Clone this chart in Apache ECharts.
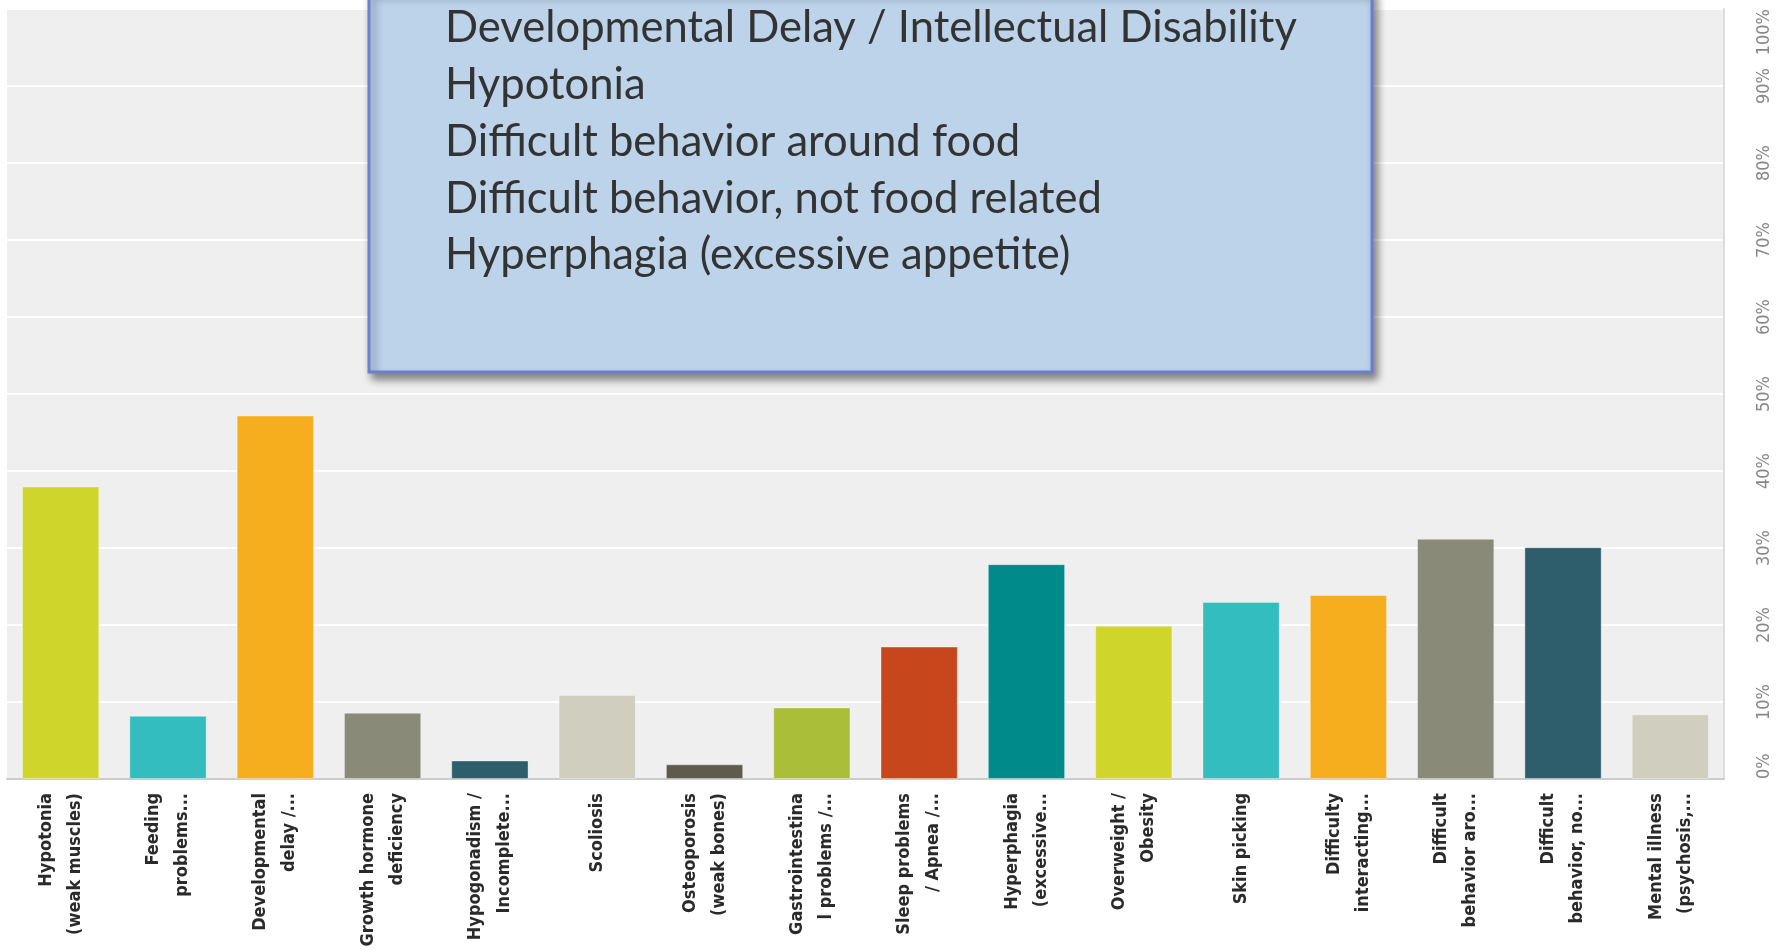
<!DOCTYPE html>
<html>
<head>
<meta charset="utf-8">
<script src="https://cdn.jsdelivr.net/npm/echarts@6/dist/echarts.min.js"></script>
<style>
  html, body { margin: 0; padding: 0; background: #ffffff; }
  #chart { width: 1778px; height: 950px; }
</style>
</head>
<body>
<div id="chart"></div>
<script>
// categories on the x axis (as shown, truncated labels kept)
const categories = [
    'Hypotonia\n(weak muscles)',
    'Feeding\nproblems...',
    'Developmental\ndelay /...',
    'Growth hormone\ndeficiency',
    'Hypogonadism /\nIncomplete...',
    'Scoliosis',
    'Osteoporosis\n(weak bones)',
    'Gastrointestina\nl problems /...',
    'Sleep problems\n/ Apnea /...',
    'Hyperphagia\n(excessive...',
    'Overweight /\nObesity',
    'Skin picking',
    'Difficulty\ninteracting...',
    'Difficult\nbehavior aro...',
    'Difficult\nbehavior, no...',
    'Mental illness\n(psychosis,...'
];

// percent of respondents
const values = [38.0, 8.2, 47.2, 8.6, 2.4, 10.9, 1.9, 9.3, 17.2, 27.9, 19.9, 23.0, 23.9, 31.2, 30.1, 8.4];

const yTicks = [0, 10, 20, 30, 40, 50, 60, 70, 80, 90, 100];

// text in the callout box
const boxLines = [
    'Developmental Delay / Intellectual Disability',
    'Hypotonia',
    'Difficult behavior around food',
    'Difficult behavior, not food related',
    'Hyperphagia (excessive appetite)'
];

const palette = ['#cfd52a', '#33bdbf', '#f6ae1f', '#8a8a78', '#2e5e6c', '#cfcebf', '#5d5b4b', '#aabe3a',
                 '#c8461c', '#008a8a', '#cfd52a', '#33bdbf', '#f6ae1f', '#8a8a78', '#2e5e6c', '#cfcebf'];

const narrow = '"Liberation Sans Narrow", "Arial Narrow", "DejaVu Sans Condensed", sans-serif';

const chart = echarts.init(document.getElementById('chart'));

const textEls = boxLines.map(function (line, i) {
    return {
        type: 'text',
        z: 101,
        x: 0,
        y: 28 + i * 56.8,
        style: {
            text: line,
            fontFamily: 'Lato, "Open Sans", sans-serif',
            fontSize: 44,
            fill: '#333333',
            verticalAlign: 'middle',
            align: 'left'
        }
    };
});

const option = {
    animation: false,
    backgroundColor: '#ffffff',
    grid: {
        left: 7,
        right: 54,
        top: 9,
        bottom: 171,
        outerBoundsMode: 'none',
        containLabel: false,
        show: true,
        backgroundColor: '#efefef',
        borderWidth: 0
    },
    xAxis: {
        type: 'category',
        data: categories,
        axisLine: { lineStyle: { color: '#cccccc', width: 2 } },
        axisTick: { show: false },
        axisLabel: {
            interval: 0,
            rotate: 90,
            margin: 14,
            fontFamily: narrow,
            fontWeight: 'bold',
            fontSize: 18,
            lineHeight: 29,
            color: '#2a2a2a'
        }
    },
    yAxis: {
        type: 'value',
        position: 'right',
        min: yTicks[0],
        max: yTicks[yTicks.length - 1],
        interval: yTicks[1] - yTicks[0],
        axisLine: { show: true, lineStyle: { color: '#dddddd', width: 2 } },
        axisTick: { show: false },
        splitLine: { lineStyle: { color: '#ffffff', width: 2 } },
        axisLabel: {
            rotate: 90,
            margin: 31,
            fontFamily: narrow,
            fontSize: 18,
            color: '#888888',
            formatter: '{value}%',
            alignMinLabel: 'left',
            alignMaxLabel: 'right'
        }
    },
    series: [{
        type: 'bar',
        barWidth: '72%',
        data: values.map(function (v, i) {
            return {
                value: v,
                itemStyle: {
                    color: palette[i],
                    borderColor: 'rgba(255,255,255,0.35)',
                    borderWidth: 1
                }
            };
        })
    }],
    graphic: [
        {
            type: 'rect',
            z: 100,
            shape: { x: 369, y: -10, width: 1003, height: 382 },
            style: {
                fill: '#bcd3ea',
                stroke: '#6b7fcf',
                lineWidth: 3,
                shadowBlur: 8,
                shadowOffsetX: 4,
                shadowOffsetY: 6,
                shadowColor: 'rgba(0,0,0,0.45)'
            }
        },
        {
            type: 'group',
            z: 101,
            x: 445,
            y: 0,
            scaleX: 0.99,
            children: textEls
        }
    ]
};

chart.setOption(option);

window.addEventListener('resize', function () {
    chart.resize();
});
</script>
</body>
</html>
